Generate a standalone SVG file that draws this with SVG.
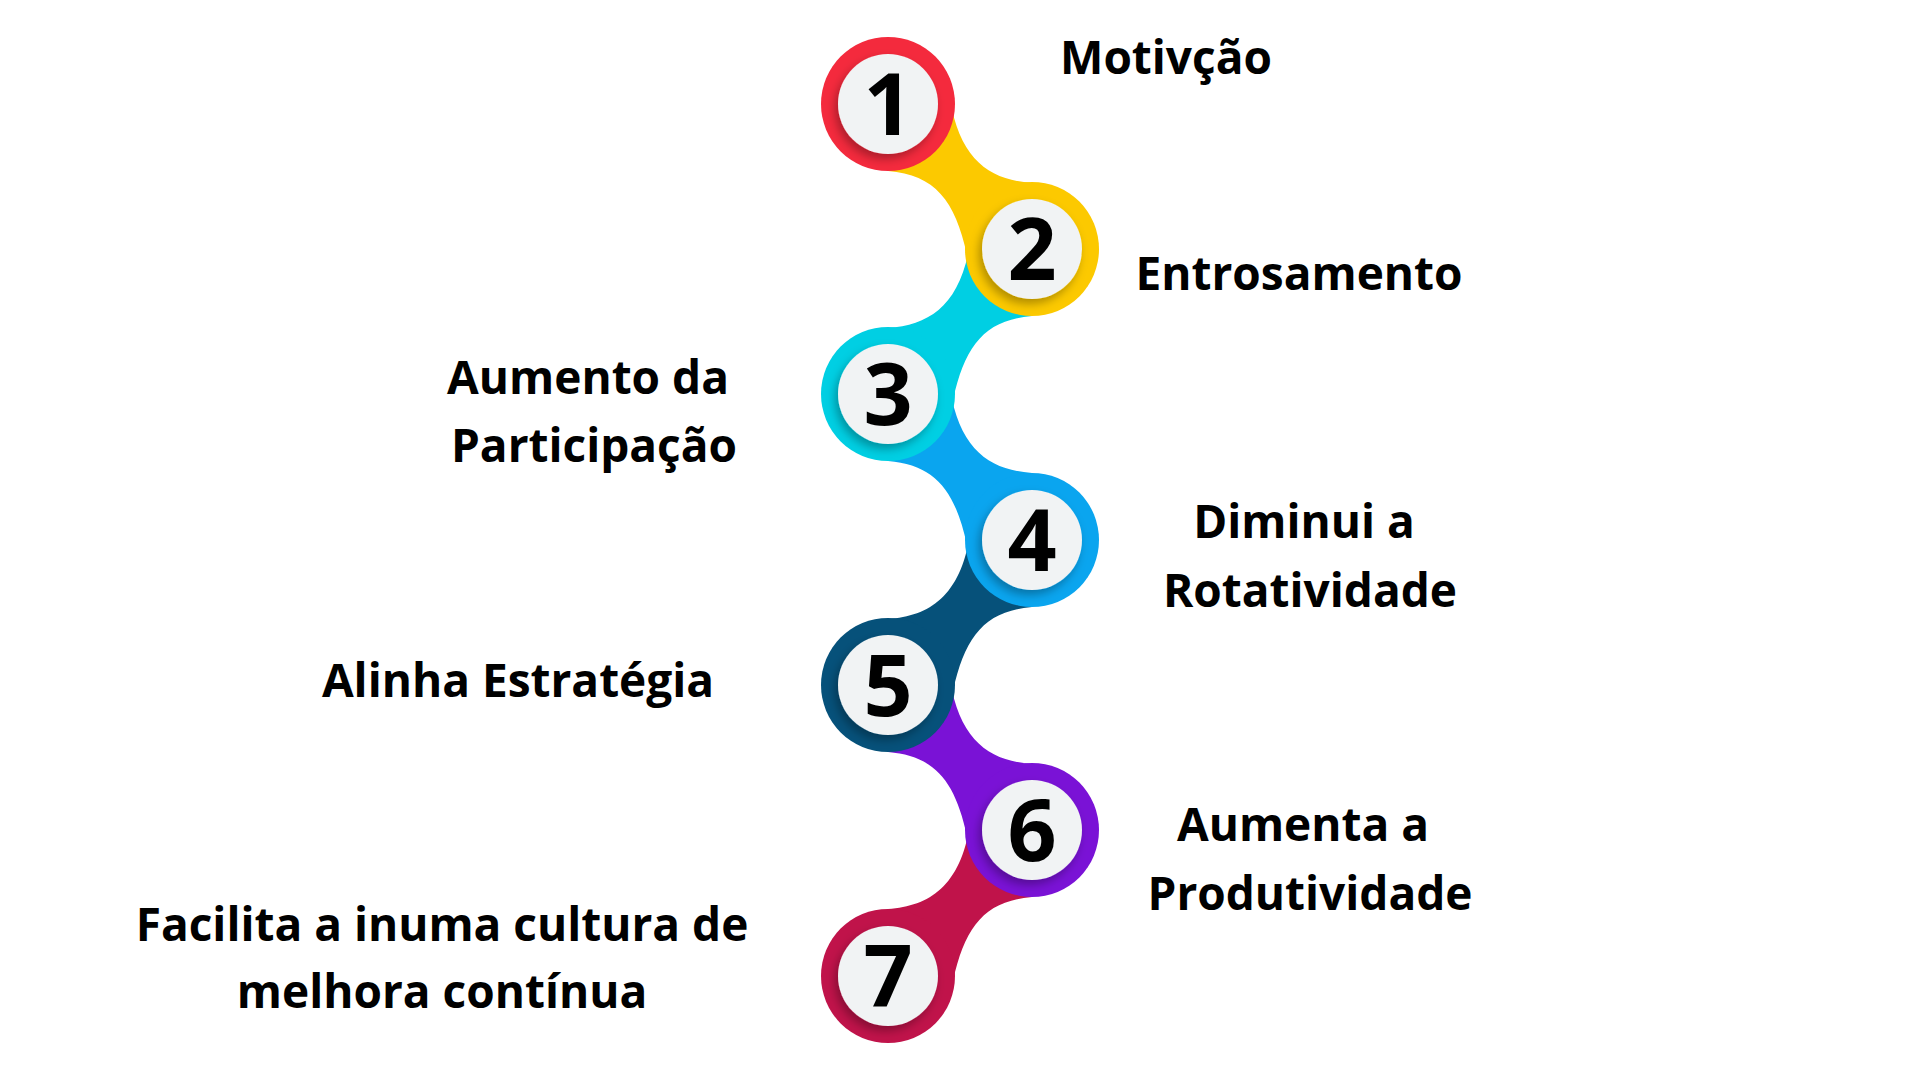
<svg xmlns="http://www.w3.org/2000/svg" width="1920" height="1080" viewBox="0 0 1920 1080">
<defs>
<filter id="sh" x="-30%" y="-30%" width="160%" height="160%"><feDropShadow dx="-3" dy="5" stdDeviation="5" flood-color="#000" flood-opacity="0.3"/></filter>
<path id="neck" d="M0,0 L62,-5 C72,56 102,76 144,79 L144,145 L79,151 C67,96 47,71 0,67 Z"/>
</defs>
<style>
.num{font-family:"Open Sans","Liberation Sans",sans-serif;font-weight:700;font-size:86px;fill:#000;text-anchor:middle}
.lbl{font-family:"Open Sans","Liberation Sans",sans-serif;font-weight:700;font-size:46px;fill:#000;text-anchor:middle}
.in{fill:#f1f3f4;filter:url(#sh)}
</style>
<rect width="1920" height="1080" fill="#fff"/>
<g id="connectors">
<use href="#neck" transform="translate(1032,830) scale(-1,1)" fill="#c0134a"/>
<use href="#neck" transform="translate(888,685)" fill="#7a12d6"/>
<use href="#neck" transform="translate(1032,540) scale(-1,1)" fill="#06517a"/>
<use href="#neck" transform="translate(888,394)" fill="#0aa5ef"/>
<use href="#neck" transform="translate(1032,249) scale(-1,1)" fill="#00cfe3"/>
<use href="#neck" transform="translate(888,104)" fill="#fcc900"/>
</g>
<g id="n7"><circle cx="888" cy="976" r="67" fill="#c0134a"/><circle class="in" cx="888" cy="976" r="50"/><text class="num" x="888" y="1007">7</text></g>
<g id="n6"><circle cx="1032" cy="830" r="67" fill="#7a12d6"/><circle class="in" cx="1032" cy="830" r="50"/><text class="num" x="1032" y="861">6</text></g>
<g id="n5"><circle cx="888" cy="685" r="67" fill="#06517a"/><circle class="in" cx="888" cy="685" r="50"/><text class="num" x="888" y="716">5</text></g>
<g id="n4"><circle cx="1032" cy="540" r="67" fill="#0aa5ef"/><circle class="in" cx="1032" cy="540" r="50"/><text class="num" x="1032" y="571">4</text></g>
<g id="n3"><circle cx="888" cy="394" r="67" fill="#00cfe3"/><circle class="in" cx="888" cy="394" r="50"/><text class="num" x="888" y="425">3</text></g>
<g id="n2"><circle cx="1032" cy="249" r="67" fill="#fcc900"/><circle class="in" cx="1032" cy="249" r="50"/><text class="num" x="1032" y="280">2</text></g>
<g id="n1"><circle cx="888" cy="104" r="67" fill="#f42a3d"/><circle class="in" cx="888" cy="104" r="50"/><text class="num" x="888" y="135">1</text></g>
<g id="labels">
<text class="lbl" x="1166" y="74">Motivção</text>
<text class="lbl" x="1299" y="290">Entrosamento</text>
<text class="lbl" x="588" y="394">Aumento da</text>
<text class="lbl" x="594" y="462">Participação</text>
<text class="lbl" x="1304" y="538">Diminui a</text>
<text class="lbl" x="1310" y="607">Rotatividade</text>
<text class="lbl" x="518" y="697">Alinha Estratégia</text>
<text class="lbl" x="1303" y="841">Aumenta a</text>
<text class="lbl" x="1310" y="910">Produtividade</text>
<text class="lbl" x="442" y="941">Facilita a inuma cultura de</text>
<text class="lbl" x="442" y="1008">melhora contínua</text>
</g>
</svg>
